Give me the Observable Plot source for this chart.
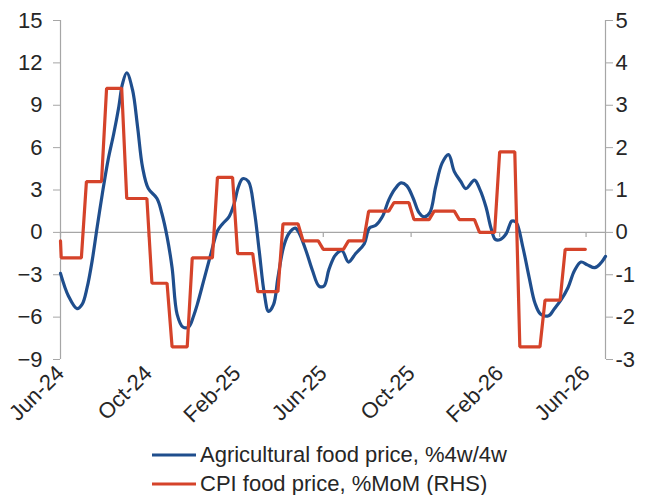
<!DOCTYPE html>
<html>
<head>
<meta charset="utf-8">
<script src="https://cdn.jsdelivr.net/npm/d3@7"></script>
<script src="https://cdn.jsdelivr.net/npm/@observablehq/plot@0.6"></script>
<style>
  html, body { margin: 0; padding: 0; background: #fff; }
  body { width: 655px; height: 495px; overflow: hidden; font-family: "Liberation Sans", Arial, sans-serif; }
  .legend { margin-left: 152px; margin-top: 5px; color: #262626; font-size: 22px; }
  .legend .row { display: flex; align-items: center; height: 29px; white-space: nowrap; }
  .legend span { line-height: 22px; }
  .legend svg { margin-right: 4px; }
</style>
</head>
<body>
<div id="chart"></div>
<script>
// Agricultural food price, % change 4 weeks over previous 4 weeks (left axis)
const agriDates = [
  "2024-06-01","2024-06-12","2024-06-24","2024-07-01","2024-07-08","2024-07-15","2024-07-22","2024-07-29","2024-08-06","2024-08-14",
  "2024-08-21","2024-08-26","2024-09-01","2024-09-09","2024-09-16","2024-09-23","2024-10-01","2024-10-13","2024-10-20","2024-10-27",
  "2024-11-03","2024-11-10","2024-11-18","2024-11-26","2024-12-03","2024-12-08","2024-12-17","2024-12-27","2025-01-05","2025-01-12",
  "2025-01-21","2025-01-28","2025-02-03","2025-02-09","2025-02-17","2025-02-25","2025-03-04","2025-03-11","2025-03-17","2025-03-24",
  "2025-03-30","2025-04-07","2025-04-14","2025-04-23","2025-04-28","2025-05-08","2025-05-17","2025-05-26","2025-06-02","2025-06-09",
  "2025-06-18","2025-06-27","2025-07-06","2025-07-16","2025-07-28","2025-08-04","2025-08-13","2025-08-22","2025-08-31","2025-09-09",
  "2025-09-17","2025-09-25","2025-10-04","2025-10-12","2025-10-19","2025-10-27","2025-11-04","2025-11-13","2025-11-22","2025-11-30",
  "2025-12-09","2025-12-16","2025-12-28","2026-01-04","2026-01-13","2026-01-20","2026-01-26","2026-02-02","2026-02-10","2026-02-18",
  "2026-02-24","2026-03-05","2026-03-14","2026-03-22","2026-03-30","2026-04-10","2026-04-18","2026-04-27","2026-05-07","2026-05-16",
  "2026-05-25","2026-06-03","2026-06-13","2026-06-21","2026-06-28"
];
const agriValues = [
  -2.9,-4.5,-5.4,-5.1,-3.9,-2.0,0.4,2.7,5.1,7.0,
  8.9,10.5,11.3,10.1,7.5,4.6,3.1,2.4,1.3,-0.3,
  -2.5,-5.8,-6.7,-6.7,-5.9,-5.1,-3.4,-1.5,0.1,0.6,
  1.1,2.0,3.2,3.8,3.6,1.6,-1.3,-4.3,-5.6,-5.1,
  -3.2,-1.0,-0.1,0.3,0.0,-1.3,-2.7,-3.8,-3.8,-2.6,
  -1.6,-1.3,-2.1,-1.5,-0.8,0.3,0.5,1.1,2.3,3.1,
  3.5,3.3,2.4,1.4,1.1,1.4,3.2,4.9,5.5,4.3,
  3.6,3.1,3.7,3.1,1.8,0.3,-0.5,-0.5,-0.1,0.8,
  0.7,-1.0,-3.2,-5.0,-5.8,-5.9,-5.4,-4.8,-3.9,-2.7,
  -2.1,-2.3,-2.5,-2.2,-1.7
];

// CPI food price, % month on month (right axis), one print per month
const cpiMonths = [
  "2024-05","2024-06","2024-07","2024-08","2024-09","2024-10","2024-11","2024-12",
  "2025-01","2025-02","2025-03","2025-04","2025-05","2025-06","2025-07","2025-08","2025-09","2025-10","2025-11","2025-12",
  "2026-01","2026-02","2026-03","2026-04","2026-05"
];
const cpiValues = [
  -0.2,-0.6,1.2,3.4,0.8,-1.2,-2.7,-0.6,
  1.3,-0.5,-1.4,0.2,-0.2,-0.4,-0.2,0.5,0.7,0.3,0.5,0.3,
  0.0,1.9,-2.7,-1.6,-0.4
];
// the monthly print is carried on the weekly calendar of the chart
const cpiFirstDay = "2024-06-01";
const cpiFirstWeek = "2024-06-02";
const cpiLastWeek = "2026-05-31";

const yTicks = [-9, -6, -3, 0, 3, 6, 9, 12, 15];
const rhsFactor = 3; // right axis = left axis / 3
const xTickDates = ["2024-06-01","2024-10-01","2025-02-01","2025-06-01","2025-10-01","2026-02-01","2026-06-01"];
const xDomain = ["2024-06-01", "2026-06-28"];

const blue = "#1f4e8d";
const red = "#d5432a";
const grid = "#a6a6a6";
const ink = "#262626";

const parse = d3.utcParse("%Y-%m-%d");
const monthKey = d3.utcFormat("%Y-%m");

const agri = agriDates.map((d, i) => ({date: parse(d), value: agriValues[i]}));

const cpiByMonth = new Map(cpiMonths.map((m, i) => [m, cpiValues[i]]));
const cpi = [{date: parse(cpiFirstDay), value: cpiValues[0]}];
for (let d = parse(cpiFirstWeek); d <= parse(cpiLastWeek); d = d3.utcDay.offset(d, 7)) {
  cpi.push({date: d, value: cpiByMonth.get(monthKey(d))});
}

const ticks = xTickDates.map(parse);
const [x0, x1] = xDomain.map(parse);

const chart = Plot.plot({
  width: 655,
  height: 435,
  marginLeft: 60,
  marginRight: 50,
  marginTop: 20,
  marginBottom: 76,
  style: {fontFamily: "'Liberation Sans', Arial, sans-serif", fontSize: "22px", color: ink, background: "#fff"},
  x: {type: "utc", domain: [x0, x1]},
  y: {domain: [-9, 15]},
  marks: [
    Plot.ruleX([x0, x1], {y1: -9, y2: 15, stroke: grid, strokeWidth: 1.2}),
    Plot.ruleY([0], {stroke: grid, strokeWidth: 1.2}),
    Plot.ruleX(ticks, {y1: 0, y2: 0, insetBottom: -5, stroke: grid, strokeWidth: 1.2}),
    Plot.axisY({anchor: "left", ticks: yTicks, tickSize: 7, tickPadding: 11, stroke: grid, fill: ink, label: null, fontSize: 22}),
    Plot.axisY({anchor: "right", ticks: yTicks, tickSize: 7, tickPadding: 3, stroke: grid, fill: ink, label: null, fontSize: 22,
      tickFormat: d => String(d / rhsFactor)}),
    Plot.axisX({anchor: "bottom", ticks: ticks, tickSize: 0, tickRotate: -45, tickPadding: 10, tickFormat: d3.utcFormat("%b-%y"),
      fill: ink, label: null, fontSize: 22}),
    Plot.line(agri, {x: "date", y: "value", stroke: blue, strokeWidth: 3.2, curve: "catmull-rom"}),
    Plot.line(cpi, {x: "date", y: d => d.value * rhsFactor, stroke: red, strokeWidth: 3.2, strokeLinejoin: "miter"})
  ]
});
document.getElementById("chart").append(chart);

// legend under the chart
const legend = document.createElement("div");
legend.className = "legend";
for (const [label, color] of [["Agricultural food price, %4w/4w", blue], ["CPI food price, %MoM (RHS)", red]]) {
  const row = document.createElement("div");
  row.className = "row";
  row.innerHTML = `<svg width="44" height="6"><line x1="0" x2="44" y1="3" y2="3" stroke="${color}" stroke-width="3.2"/></svg><span>${label}</span>`;
  legend.append(row);
}
document.body.append(legend);
</script>
</body>
</html>
